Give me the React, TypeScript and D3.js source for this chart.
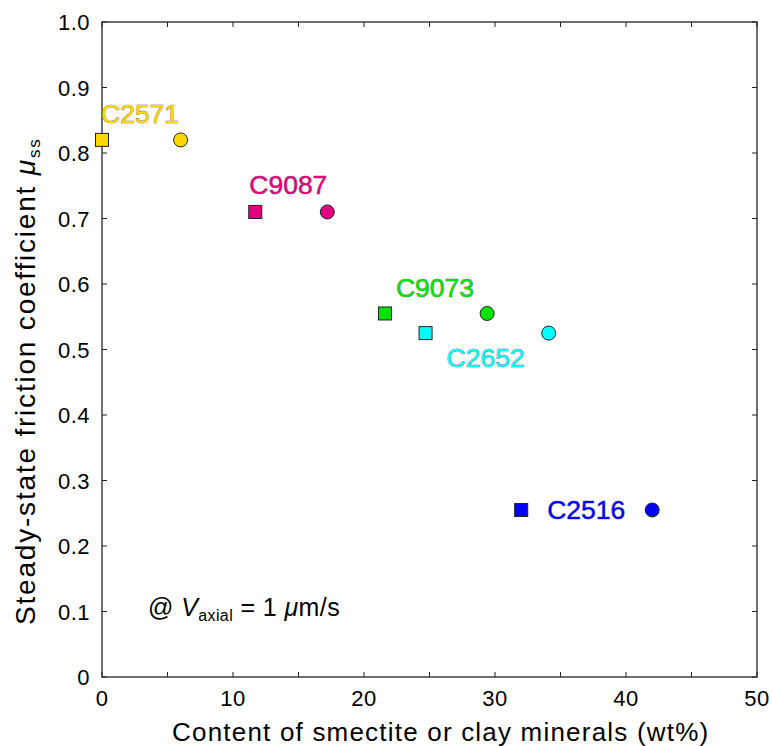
import { scaleLinear, range } from "d3";

const width = 772;
const height = 746;
const margin = { top: 22, right: 15, bottom: 69, left: 102 };

// samples
const samples = ["C2571", "C9087", "C9073", "C2652", "C2516"];
const smectite = [0, 11.7, 21.6, 24.7, 32.0];   // squares
const clay = [6.0, 17.2, 29.4, 34.1, 42.0];     // circles
const muSS = [0.82, 0.71, 0.555, 0.525, 0.255];
const colors = ["#ffd700", "#e4007f", "#00e400", "#00ffff", "#0000ff"];
// label offsets from the square marker (px)
const labelDx = [-1, -6, 11, 21, 26];
const labelDy = [-17, -18, -16, 34, 9];

const xTicks = range(0, 51, 5);
const yTicks = range(0, 1.01, 0.1);

export default function App() {
    const iw = width - margin.left - margin.right;
    const ih = height - margin.top - margin.bottom;

    const x = scaleLinear().domain([0, 50]).range([0, iw]);
    const y = scaleLinear().domain([0, 1]).range([ih, 0]);
    const font = "Liberation Sans, Arial, Helvetica, sans-serif";

    return (
        <svg width={width} height={height} style={{ display: "block", position: "absolute", left: 0, top: 0 }} fontFamily={font}>
            <g transform={`translate(${margin.left},${margin.top})`}>
                <rect x={0} y={0} width={iw} height={ih} fill="none" stroke="#222" strokeWidth={1.3} />
                {xTicks.map(t => (
                    <g key={"x" + t}>
                        <line x1={x(t)} x2={x(t)} y1={ih} y2={ih - 5} stroke="#222" />
                        <line x1={x(t)} x2={x(t)} y1={0} y2={5} stroke="#222" />
                        {t % 10 === 0 && (
                            <text x={x(t)} y={ih + 29} textAnchor="middle" fontSize={22} letterSpacing={0.5}>{t}</text>
                        )}
                    </g>
                ))}
                {yTicks.map(t => (
                    <g key={"y" + t}>
                        <line x1={0} x2={5} y1={y(t)} y2={y(t)} stroke="#222" />
                        <line x1={iw} x2={iw - 5} y1={y(t)} y2={y(t)} stroke="#222" />
                        <text x={-12} y={y(t) + 8} textAnchor="end" fontSize={22} letterSpacing={0.5}>
                            {t === 0 ? "0" : t.toFixed(1)}
                        </text>
                    </g>
                ))}

                {samples.map((s, i) => (
                    <g key={s}>
                        <rect x={x(smectite[i]) - 6.5} y={y(muSS[i]) - 6.5} width={13} height={13}
                            fill={colors[i]} stroke="#222" strokeWidth={1} />
                        <circle cx={x(clay[i])} cy={y(muSS[i])} r={7} fill={colors[i]} stroke="#222" strokeWidth={1} />
                        <text x={x(smectite[i]) + labelDx[i]} y={y(muSS[i]) + labelDy[i]} fontSize={26.5}
                            fill={colors[i]} stroke="#555" strokeWidth={0.6} paintOrder="stroke">{s}</text>
                    </g>
                ))}

                <text x={46} y={594} fontSize={25} letterSpacing={0.4}>
                    @ <tspan fontStyle="italic">V</tspan>
                    <tspan fontSize={16} dy={5}>axial</tspan>
                    <tspan dy={-5}> = 1 </tspan>
                    <tspan fontStyle="italic">μ</tspan>m/s
                </text>
            </g>

            <text x={172} y={741} fontSize={26} letterSpacing={1.2}>
                Content of smectite or clay minerals (wt%)
            </text>
            <text transform="translate(35,625) rotate(-90)" fontSize={28} letterSpacing={1.8}>
                Steady-state friction coefficient  <tspan fontStyle="italic">μ</tspan>
                <tspan fontSize={17} dy={5}>ss</tspan>
            </text>
        </svg>
    );
}
